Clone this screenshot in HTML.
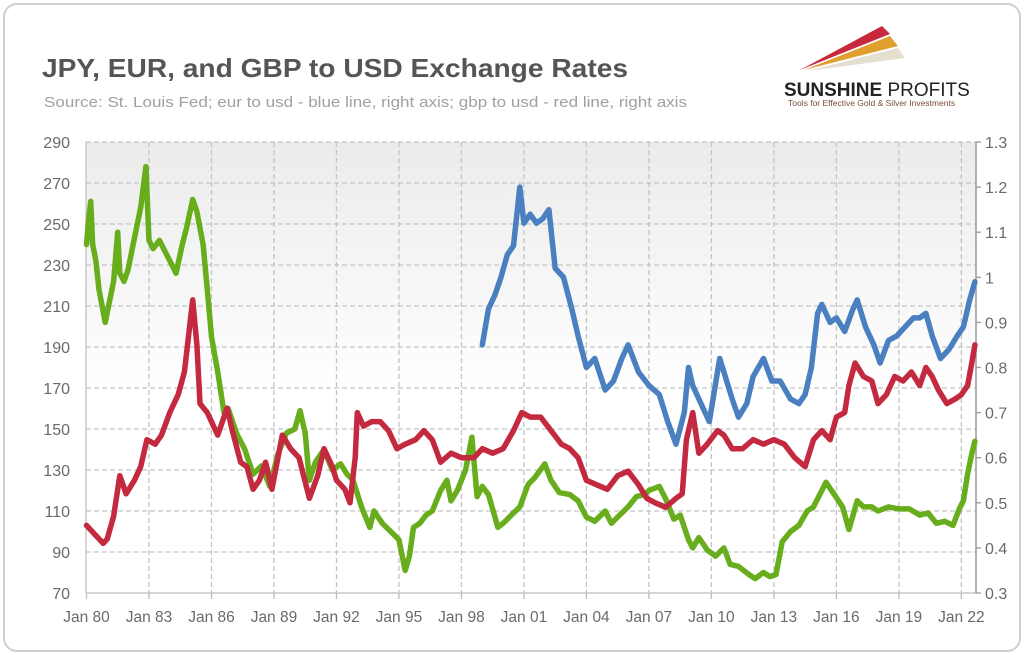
<!DOCTYPE html>
<html><head><meta charset="utf-8">
<style>
body{margin:0;background:#fff;width:1024px;height:655px;overflow:hidden;font-family:"Liberation Sans",sans-serif}
#card{position:absolute;left:3px;top:3px;width:1014px;height:645px;border:2px solid #cfcfcf;border-radius:14px;background:#fff}
</style></head><body>
<div id="card"></div>
<svg id="chart" width="1024" height="655" style="position:absolute;left:0;top:0">
<defs><linearGradient id="bg" x1="0" y1="0" x2="0" y2="1"><stop offset="0" stop-color="#ebebeb"/><stop offset="0.55" stop-color="#ffffff"/><stop offset="1" stop-color="#ffffff"/></linearGradient></defs>
<text x="42" y="77" font-size="26" font-weight="bold" fill="#555" textLength="586" lengthAdjust="spacingAndGlyphs">JPY, EUR, and GBP to USD Exchange Rates</text>
<text x="44" y="107" font-size="14.5" fill="#a0a0a0" textLength="643" lengthAdjust="spacingAndGlyphs">Source: St. Louis Fed; eur to usd - blue line, right axis; gbp to usd - red line, right axis</text>
<g>
<polygon points="800,70 882,26 890,34" fill="#c8283c"/>
<polygon points="804,70 890,36 898,46" fill="#e0a030"/>
<polygon points="808,71 898,48 905,58" fill="#e4dfcf"/>
<text x="784" y="96" font-size="19" font-weight="bold" fill="#222">SUNSHINE <tspan font-weight="normal">PROFITS</tspan></text>
<text x="788" y="106" font-size="8.5" fill="#7a4b3a">Tools for Effective Gold &amp; Silver Investments</text>
</g>
<rect x="86" y="142" width="890" height="451" fill="url(#bg)"/>
<g id="grid"></g><g id="axes"></g><g id="series"></g>
</svg>
<script>
const leftTicks=[70,90,110,130,150,170,190,210,230,250,270,290];
const rightTicks=["0.3","0.4","0.5","0.6","0.7","0.8","0.9","1","1.1","1.2","1.3"];
const xTickYears=[1980,1983,1986,1989,1992,1995,1998,2001,2004,2007,2010,2013,2016,2019,2022];
const xTickLabels=["Jan 80","Jan 83","Jan 86","Jan 89","Jan 92","Jan 95","Jan 98","Jan 01","Jan 04","Jan 07","Jan 10","Jan 13","Jan 16","Jan 19","Jan 22"];
const jpyT=[1980.0,1980.1,1980.2,1980.3,1980.45,1980.6,1980.9,1981.1,1981.3,1981.5,1981.6,1981.8,1982.0,1982.2,1982.4,1982.6,1982.75,1982.85,1983.0,1983.2,1983.5,1983.8,1984.0,1984.3,1984.6,1984.8,1985.1,1985.3,1985.6,1985.8,1986.0,1986.3,1986.6,1986.8,1987.2,1987.6,1988.0,1988.4,1988.8,1989.2,1989.6,1990.0,1990.25,1990.5,1990.7,1991.0,1991.4,1991.8,1992.2,1992.5,1992.8,1993.2,1993.6,1993.8,1994.2,1994.7,1995.0,1995.3,1995.5,1995.7,1996.0,1996.3,1996.6,1997.0,1997.3,1997.5,1997.8,1998.2,1998.5,1998.75,1999.0,1999.3,1999.75,2000.0,2000.4,2000.8,2001.2,2001.5,2002.0,2002.3,2002.7,2003.2,2003.6,2004.0,2004.4,2004.9,2005.2,2005.6,2006.0,2006.4,2006.8,2007.0,2007.5,2007.8,2008.2,2008.5,2008.9,2009.1,2009.4,2009.8,2010.2,2010.6,2010.9,2011.3,2011.8,2012.1,2012.5,2012.8,2013.1,2013.4,2013.8,2014.2,2014.6,2014.9,2015.5,2015.9,2016.3,2016.6,2017.0,2017.3,2017.7,2018.0,2018.5,2019.0,2019.5,2020.0,2020.4,2020.8,2021.2,2021.6,2021.9,2022.1,2022.3,2022.5,2022.65];
const jpyV=[240,252,261,240,232,218,202,212,222,246,226,222,228,238,248,258,270,278,242,238,242,236,232,226,240,248,262,256,240,218,195,178,158,160,148,140,128,132,122,138,148,150,159,148,125,134,140,130,133,128,125,112,102,110,104,99,96,81,88,102,104,108,110,120,125,115,120,130,146,117,122,118,102,104,108,112,123,126,133,125,119,118,115,107,105,110,104,108,112,117,118,120,122,116,106,108,96,92,97,91,88,92,84,83,79,77,80,78,79,95,100,103,110,112,124,118,112,101,115,112,112,110,112,111,111,108,109,104,105,103,111,115,128,138,144];
const eurT=[1999.0,1999.3,1999.6,1999.9,2000.2,2000.5,2000.8,2001.0,2001.3,2001.6,2001.9,2002.2,2002.5,2002.9,2003.3,2003.6,2004.0,2004.4,2004.9,2005.3,2005.7,2006.0,2006.5,2007.0,2007.5,2007.9,2008.3,2008.7,2008.9,2009.1,2009.5,2009.9,2010.4,2010.6,2011.0,2011.3,2011.7,2012.0,2012.5,2012.9,2013.3,2013.8,2014.2,2014.5,2014.8,2015.1,2015.3,2015.7,2016.0,2016.4,2016.8,2017.0,2017.4,2017.8,2018.1,2018.5,2018.9,2019.3,2019.7,2020.0,2020.3,2020.6,2021.0,2021.4,2021.8,2022.1,2022.4,2022.65];
const eurV=[0.85,0.93,0.96,1.0,1.05,1.07,1.2,1.12,1.14,1.12,1.13,1.15,1.02,1.0,0.93,0.87,0.80,0.82,0.75,0.77,0.82,0.85,0.79,0.76,0.74,0.68,0.63,0.70,0.80,0.76,0.72,0.68,0.82,0.79,0.73,0.69,0.72,0.78,0.82,0.77,0.77,0.73,0.72,0.74,0.80,0.92,0.94,0.90,0.91,0.88,0.93,0.95,0.89,0.85,0.81,0.86,0.87,0.89,0.91,0.91,0.92,0.87,0.82,0.84,0.87,0.89,0.95,0.99];
const gbpT=[1980.0,1980.2,1980.4,1980.8,1981.0,1981.3,1981.6,1981.9,1982.3,1982.6,1982.9,1983.3,1983.6,1984.0,1984.4,1984.7,1985.1,1985.3,1985.45,1985.8,1986.3,1986.75,1987.0,1987.4,1987.7,1988.0,1988.3,1988.6,1988.9,1989.4,1989.8,1990.2,1990.7,1991.1,1991.4,1991.8,1992.0,1992.4,1992.65,1992.9,1993.0,1993.3,1993.7,1994.1,1994.5,1994.9,1995.3,1995.8,1996.2,1996.6,1997.0,1997.5,1998.0,1998.6,1999.0,1999.5,2000.0,2000.5,2000.9,2001.3,2001.8,2002.3,2002.8,2003.2,2003.6,2004.0,2004.5,2005.0,2005.5,2006.0,2006.5,2006.9,2007.3,2007.8,2008.3,2008.6,2008.8,2009.1,2009.4,2009.8,2010.3,2010.6,2011.0,2011.5,2012.0,2012.5,2013.0,2013.5,2014.0,2014.5,2014.9,2015.3,2015.7,2016.0,2016.4,2016.6,2016.9,2017.3,2017.7,2018.0,2018.4,2018.8,2019.2,2019.6,2020.0,2020.3,2020.6,2020.9,2021.3,2021.7,2022.0,2022.3,2022.5,2022.65];
const gbpV=[0.45,0.44,0.43,0.41,0.42,0.47,0.56,0.52,0.55,0.58,0.64,0.63,0.65,0.70,0.74,0.79,0.95,0.85,0.72,0.70,0.65,0.71,0.66,0.59,0.58,0.53,0.55,0.59,0.53,0.65,0.62,0.60,0.51,0.56,0.62,0.58,0.55,0.53,0.50,0.60,0.70,0.67,0.68,0.68,0.66,0.62,0.63,0.64,0.66,0.64,0.59,0.61,0.60,0.60,0.62,0.61,0.62,0.66,0.70,0.69,0.69,0.66,0.63,0.62,0.60,0.55,0.54,0.53,0.56,0.57,0.54,0.51,0.50,0.49,0.51,0.52,0.64,0.70,0.61,0.63,0.66,0.65,0.62,0.62,0.64,0.63,0.64,0.63,0.60,0.58,0.64,0.66,0.64,0.69,0.70,0.76,0.81,0.78,0.77,0.72,0.74,0.78,0.77,0.79,0.76,0.80,0.78,0.75,0.72,0.73,0.74,0.76,0.81,0.85];

const X0=86.5,PX=20.83,YB=593,YT=142;
function xs(t){return X0+(t-1980)*PX;}
function yl(v){return YB-(v-70)*(YB-YT)/220;}
function yr(v){return YB-(v-0.3)*(YB-YT)/1.0;}
const NS="http://www.w3.org/2000/svg";
function mk(tag,attrs,parent){const e=document.createElementNS(NS,tag);for(const k in attrs)e.setAttribute(k,attrs[k]);parent.appendChild(e);return e;}
const grid=document.getElementById('grid'),axes=document.getElementById('axes'),ser=document.getElementById('series');
leftTicks.forEach((v,i)=>{const y=yl(v);
 if(i>0){const g=mk('line',{x1:86,x2:976,y1:y,y2:y,stroke:'#c4c4c4','stroke-width':1.3,'stroke-dasharray':'5,3'},grid);
 
 }
 const t=mk('text',{x:70,y:y+6,'text-anchor':'end','font-size':16,fill:'#6a6a6a'},axes);t.textContent=v;
 
 });
rightTicks.forEach(v=>{const y=yr(parseFloat(v));
 mk('line',{x1:976,x2:981,y1:y,y2:y,stroke:'#999','stroke-width':1.3},axes);
 const t=mk('text',{x:985,y:y+6,'font-size':16,fill:'#6a6a6a'},axes);t.textContent=v;
 
 });
xTickYears.forEach((yr_,i)=>{const x=xs(yr_);
 if(i>0){const g=mk('line',{x1:x,x2:x,y1:YT,y2:YB,stroke:'#c4c4c4','stroke-width':1.3,'stroke-dasharray':'5,3'},grid);
 
 }
 mk('line',{x1:x,x2:x,y1:YB,y2:YB+6,stroke:'#bbb','stroke-width':1.3},axes);
 const t=mk('text',{x:x,y:622,'text-anchor':'middle','font-size':15.5,fill:'#6a6a6a'},axes);t.textContent=xTickLabels[i];
 
 });
mk('line',{x1:86,x2:86,y1:YT,y2:YB,stroke:'#c8c8c8','stroke-width':1.5},axes);
mk('line',{x1:86,x2:976,y1:YB,y2:YB,stroke:'#c8c8c8','stroke-width':1.5},axes);
mk('line',{x1:976,x2:976,y1:YT,y2:YB,stroke:'#999','stroke-width':1.5},axes);
function line(T,V,f,col,name){const d=T.map((t,i)=>(i?'L':'M')+xs(t).toFixed(1)+','+f(V[i]).toFixed(1)).join('');
 const p=mk('path',{d:d,fill:'none',stroke:col,'stroke-width':5.5,'stroke-linejoin':'round','stroke-linecap':'round'},ser);
 
 }
line(jpyT,jpyV,yl,'#67ad1c','jpy-line');
line(gbpT,gbpV,yr,'#c3293f','gbp-line');
line(eurT,eurV,yr,'#4a7fc0','eur-line');
</script>
</body></html>
